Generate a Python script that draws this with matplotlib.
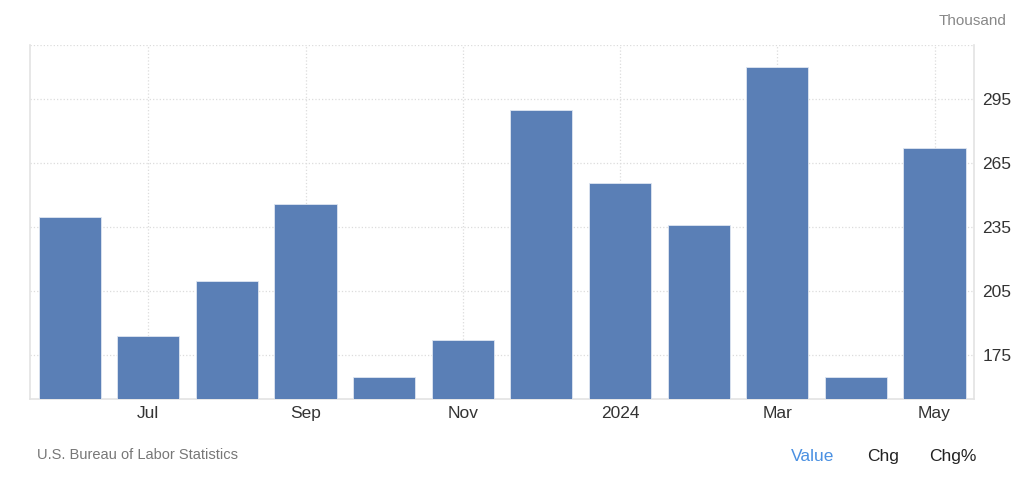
import numpy as np
import matplotlib.pyplot as plt
import matplotlib as mpl

mpl.rcParams['font.family'] = ['Liberation Sans', 'DejaVu Sans']

# monthly values (thousand), Jun 2023 - May 2024
months = ['Jun', 'Jul', 'Aug', 'Sep', 'Oct', 'Nov', 'Dec', '2024', 'Feb', 'Mar', 'Apr', 'May']
values = [240, 184, 210, 246, 165, 182, 290, 256, 236, 310, 165, 272]
shown_labels = ['Jul', 'Sep', 'Nov', '2024', 'Mar', 'May']
y_ticks = [175, 205, 235, 265, 295]

x = np.arange(len(months))

fig = plt.figure(figsize=(10.24, 4.95), dpi=100)
ax = fig.add_axes([0.0296, 0.1945, 0.9214, 0.7152])

ax.bar(x, values, width=0.79, color='#5a7fb6', edgecolor='#dfe6f1', linewidth=0.6, zorder=3)

ax.set_xlim(-0.5, len(months) - 0.5)
ax.set_ylim(154.7, 320.6)

tick_pos = [months.index(m) for m in shown_labels]
ax.set_xticks(tick_pos)
ax.set_xticklabels(shown_labels, fontsize=12.5, color='#333333')
ax.set_yticks(y_ticks)
ax.set_yticklabels([str(v) for v in y_ticks], fontsize=12.5, color='#333333')
ax.yaxis.tick_right()
ax.tick_params(axis='both', length=0)
ax.tick_params(axis='x', pad=5)
ax.tick_params(axis='y', pad=6)

ax.grid(True, color='#dcdcdc', linestyle=':', linewidth=0.9, zorder=0)
# top border line as dotted gridline
ax.axhline(320.6, color='#dcdcdc', linestyle=':', linewidth=0.9, zorder=0)

ax.spines['top'].set_visible(False)
for side in ['left', 'right', 'bottom']:
    ax.spines[side].set_color('#e3e3e3')
    ax.spines[side].set_linewidth(1.2)

fig.text(0.983, 0.958, 'Thousand', ha='right', va='center', fontsize=11, color='#888888')
fig.text(0.036, 0.081, 'U.S. Bureau of Labor Statistics', ha='left', va='center',
         fontsize=10.5, color='#777777')
fig.text(0.794, 0.078, 'Value', ha='center', va='center', fontsize=12.5, color='#4a90e2')
fig.text(0.862, 0.078, 'Chg', ha='center', va='center', fontsize=12.5, color='#222222')
fig.text(0.930, 0.078, 'Chg%', ha='center', va='center', fontsize=12.5, color='#222222')

fig.savefig('out.png', dpi=100, facecolor='white')
